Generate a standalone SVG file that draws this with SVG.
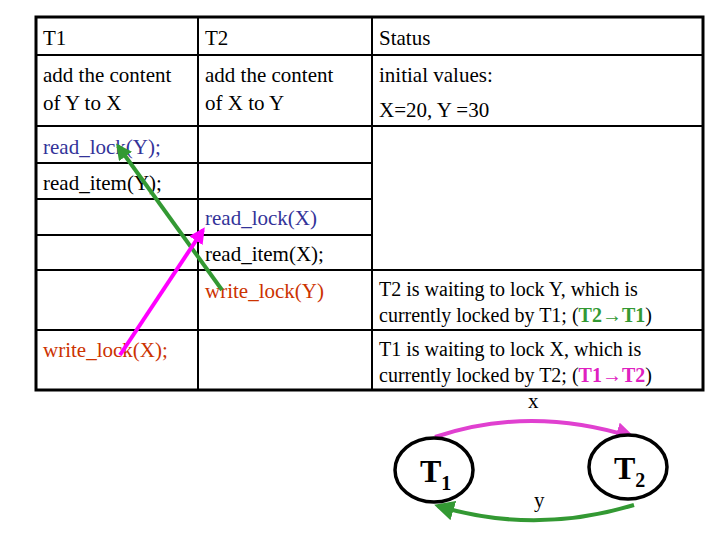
<svg xmlns="http://www.w3.org/2000/svg" width="720" height="540" viewBox="0 0 720 540" font-family="'Liberation Serif', 'Times New Roman', 'DejaVu Serif', serif">
<style>
text{font-family:'Liberation Serif','Times New Roman','DejaVu Serif',serif;font-size:21px;fill:#000}
.b{fill:#333399}.o{fill:#cc3300}.g{fill:#339933}.m{fill:#e020c0}
.s{font-size:20px}
.n{font-size:32px;font-weight:bold}
.grid line{stroke:#000;stroke-width:2}
</style>
<defs>
<marker id="ag" viewBox="0 0 10 10" refX="8" refY="5" markerWidth="4" markerHeight="4" orient="auto"><path d="M0,0L10,5L0,10z" fill="#339933"/></marker>
<marker id="am" viewBox="0 0 10 10" refX="8" refY="5" markerWidth="4" markerHeight="4" orient="auto"><path d="M0,0L10,5L0,10z" fill="#ff00ff"/></marker>
<marker id="ag2" viewBox="0 0 10 10" refX="8" refY="5" markerWidth="5" markerHeight="5" orient="auto"><path d="M0,0L10,5L0,10z" fill="#339933"/></marker>
<marker id="am2" viewBox="0 0 10 10" refX="8" refY="5" markerWidth="5" markerHeight="5" orient="auto"><path d="M0,0L10,5L0,10z" fill="#e040d0"/></marker>
</defs>
<rect width="720" height="540" fill="#fff"/>
<g class="grid">
<rect x="36" y="17" width="667" height="373" fill="none" stroke="#000" stroke-width="3"/>
<line x1="198" y1="17" x2="198" y2="390"/>
<line x1="372" y1="17" x2="372" y2="390"/>
<line x1="36" y1="55" x2="703" y2="55"/>
<line x1="36" y1="126" x2="703" y2="126"/>
<line x1="36" y1="163" x2="372" y2="163"/>
<line x1="36" y1="199" x2="372" y2="199"/>
<line x1="36" y1="235" x2="372" y2="235"/>
<line x1="36" y1="270" x2="703" y2="270"/>
<line x1="36" y1="330" x2="703" y2="330"/>
</g>
<g id="texts">
<text x="43" y="45">T1</text><text x="205" y="45">T2</text><text x="379" y="45">Status</text>
<text x="43" y="82">add the content</text><text x="43" y="110">of Y to X</text>
<text x="205" y="82">add the content</text><text x="205" y="110">of X to Y</text>
<text x="379" y="82">initial values:</text><text x="379" y="117">X=20, Y =30</text>
<text x="43" y="154" class="b">read_lock(Y);</text>
<text x="43" y="190">read_item(Y);</text>
<text x="205" y="225" class="b">read_lock(X)</text>
<text x="205" y="261">read_item(X);</text>
<text x="205" y="298" class="o">write_lock(Y)</text>
<text x="43" y="357" class="o">write_lock(X);</text>
<text x="379" y="296" class="s">T2 is waiting to lock Y, which is</text>
<text x="379" y="322" class="s">currently locked by T1; (<tspan class="g" font-weight="bold">T2→T1</tspan>)</text>
<text x="379" y="356" class="s">T1 is waiting to lock X, which is</text>
<text x="379" y="382" class="s">currently locked by T2; (<tspan class="m" font-weight="bold">T1→T2</tspan>)</text>
<text x="528" y="408">x</text><text x="534" y="507">y</text>
</g>
<g id="connectors" fill="none">
<line x1="222" y1="290" x2="118" y2="146" stroke="#339933" stroke-width="4" marker-end="url(#ag)"/>
<line x1="120" y1="355" x2="203" y2="230" stroke="#ff00ff" stroke-width="4" marker-end="url(#am)"/>
<path d="M435,437 Q530,405 632,437" stroke="#e040d0" stroke-width="4" marker-end="url(#am2)"/>
<path d="M634,505 Q535,535 438,506" stroke="#339933" stroke-width="4" marker-end="url(#ag2)"/>
</g>
<g id="T1"><ellipse cx="434" cy="470" rx="39" ry="32" fill="#fff" stroke="#000" stroke-width="3.5"/><text x="420" y="482" class="n">T<tspan font-size="20" dy="8">1</tspan></text></g>
<g id="T2"><ellipse cx="628" cy="467" rx="39" ry="32" fill="#fff" stroke="#000" stroke-width="3.5"/><text x="614" y="479" class="n">T<tspan font-size="20" dy="8">2</tspan></text></g>
</svg>
